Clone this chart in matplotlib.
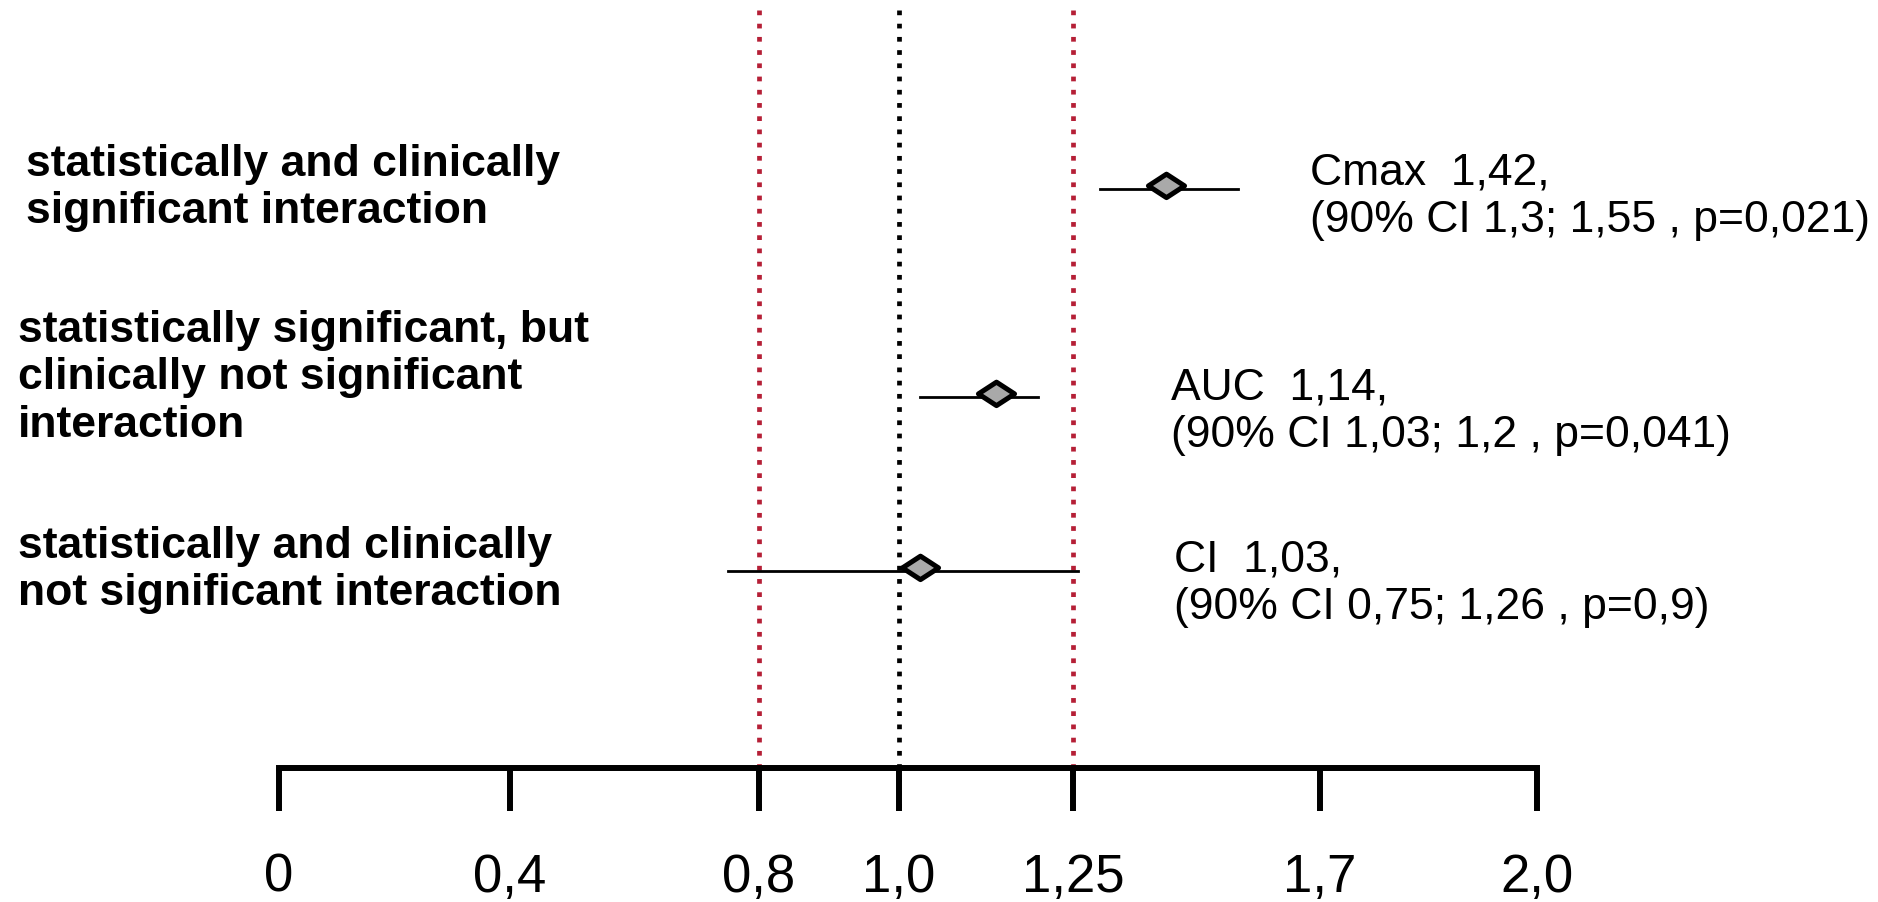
import numpy as np
import matplotlib
matplotlib.use("Agg")
import matplotlib.pyplot as plt
from matplotlib import font_manager
from matplotlib.path import Path

# ratio axis (hand-spaced, not linear)
tick_values = [0, 0.4, 0.8, 1.0, 1.25, 1.7, 2.0]
tick_labels = ["0", "0,4", "0,8", "1,0", "1,25", "1,7", "2,0"]

# point estimates with 90% CI
params = ["Cmax", "AUC", "CI"]
ratio = [1.42, 1.14, 1.03]
ci_low = [1.3, 1.03, 0.75]
ci_high = [1.55, 1.2, 1.26]
p_values = ["0,021", "0,041", "0,9"]

categories = [
    "statistically and clinically\nsignificant interaction",
    "statistically significant, but\nclinically not significant\ninteraction",
    "statistically and clinically\nnot significant interaction",
]

# equivalence limits 0.8-1.25 and the line of no effect
ref_lines = [0.8, 1.0, 1.25]
ref_colors = ["#b51f36", "#000000", "#b51f36"]

# ---- layout (pixels, measured from top-left) ----
W, H = 1878, 902
tick_px = [279, 510, 759, 899, 1073, 1320, 1537]
axis_y = 768
row_y = [189, 397, 571]
cat_pos = [(26, 188), (18, 378), (18, 570)]
note_pos = [(1310, 197), (1171, 412), (1174, 584)]

names = {f.name for f in font_manager.fontManager.ttflist}
narrow = "Liberation Sans Narrow" if "Liberation Sans Narrow" in names else "Liberation Sans"
plt.rcParams["font.family"] = ["Liberation Sans", "DejaVu Sans"]


def fx(x):
    return x / W


def fy(y):
    return 1 - y / H


def fmt(v):
    return f"{v:g}".replace(".", ",")


fig = plt.figure(figsize=(W / 100, H / 100), dpi=100)
fig.patch.set_facecolor("white")

left = tick_px[0]
ax = fig.add_axes([fx(left), fy(axis_y), (tick_px[-1] - left) / W, axis_y / H])
ax.patch.set_alpha(0)

# piecewise-linear x scale through the tick positions
offs = np.array(tick_px, dtype=float) - left
ax.set_xscale("function", functions=(
    lambda v: np.interp(v, tick_values, offs),
    lambda p: np.interp(p, offs, tick_values),
))
ax.set_xlim(tick_values[0], tick_values[-1])
ax.set_ylim(axis_y, 0)

for side in ["left", "right", "top"]:
    ax.spines[side].set_visible(False)
ax.spines["bottom"].set_linewidth(4.3)
ax.spines["bottom"].set_capstyle("projecting")
ax.set_yticks([])
ax.set_xticks(tick_values)
ax.set_xticklabels(tick_labels, fontfamily=narrow, fontsize=38)
ax.tick_params(axis="x", direction="out", length=31, width=4.3, pad=30)

# dotted reference lines, running down to the tick ends
for v, c in zip(ref_lines, ref_colors):
    ax.plot([v, v], [10, 808], color=c, lw=3.4, ls=(0, (1.0, 1.8)),
            clip_on=False, zorder=1)

# diamond sits slightly above its whisker
diamond = Path([(-1, 0.2), (0, 0.85), (1, 0.2), (0, -0.45), (-1, 0.2)],
               [Path.MOVETO, Path.LINETO, Path.LINETO, Path.LINETO, Path.CLOSEPOLY])

for i in range(len(params)):
    ax.plot([ci_low[i], ci_high[i]], [row_y[i], row_y[i]], color="black", lw=2.0, zorder=2)
    ax.plot(ratio[i], row_y[i], marker=diamond, ms=26, mfc="#a9a9a9", mec="black",
            mew=3.6, zorder=3, clip_on=False)

for (x, y), txt in zip(cat_pos, categories):
    fig.text(fx(x), fy(y), txt, ha="left", va="center", fontsize=32,
             fontweight="bold", linespacing=1.2)

for i, (x, y) in enumerate(note_pos):
    txt = (f"{params[i]}  {fmt(ratio[i])},\n"
           f"(90% CI {fmt(ci_low[i])}; {fmt(ci_high[i])} , p={p_values[i]})")
    fig.text(fx(x), fy(y), txt, ha="left", va="center", fontsize=32, linespacing=1.2)

fig.savefig("out.png", dpi=100, facecolor="white")
